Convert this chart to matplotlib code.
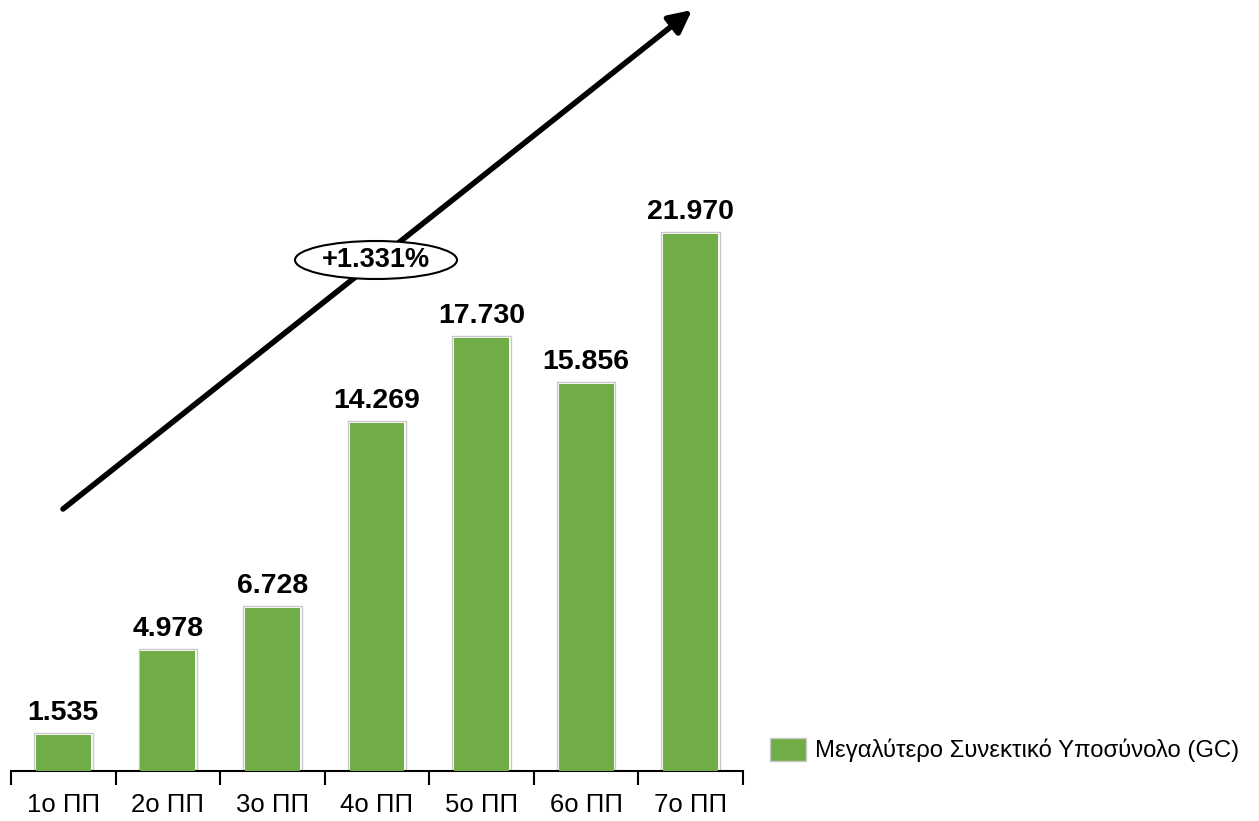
#!/usr/bin/env python3
import matplotlib
matplotlib.use("Agg")
import matplotlib.pyplot as plt
from matplotlib.patches import Ellipse

categories = ["1ο ΠΠ", "2ο ΠΠ", "3ο ΠΠ", "4ο ΠΠ", "5ο ΠΠ", "6ο ΠΠ", "7ο ΠΠ"]
values = [1535, 4978, 6728, 14269, 17730, 15856, 21970]
value_labels = ["1.535", "4.978", "6.728", "14.269", "17.730", "15.856", "21.970"]
series_name = "Μεγαλύτερο Συνεκτικό Υποσύνολο (GC)"
growth_label = "+1.331%"

plt.rcParams["font.family"] = ["Liberation Sans", "DejaVu Sans"]

W, H = 1259, 821
fig = plt.figure(figsize=(W / 100, H / 100), dpi=100)
ax = fig.add_axes([11 / W, 50 / H, (743 - 11) / W, (771 - 0) / H])

green = "#70ad47"
x = list(range(len(categories)))
width = 0.56
ax.bar(x, values, width=width, color="white", edgecolor="#c8c8c8", linewidth=1.0, zorder=2)
ax.bar(x, [v - 70 for v in values], width=width - 0.035, color=green, linewidth=0, zorder=3)

for xi, v, lab in zip(x, values, value_labels):
    ax.text(xi, v + 290, lab, ha="center", va="bottom", fontsize=20.5, fontweight="bold", zorder=4)

ax.set_xlim(-0.5, len(categories) - 0.5)
ax.set_ylim(0, 31430)

for s in ["left", "right", "top"]:
    ax.spines[s].set_visible(False)
ax.spines["bottom"].set_linewidth(1.5)
ax.set_yticks([])
ax.set_xticks([i - 0.5 for i in range(len(categories) + 1)])
ax.set_xticklabels([])
ax.tick_params(axis="x", which="major", length=10, width=1.5, direction="out")
ax.set_xticks(x, minor=True)
ax.set_xticklabels(categories, minor=True, fontsize=18.5)
ax.tick_params(axis="x", which="minor", length=0, pad=16)

# trend arrow
ax.annotate("", xy=(692 / W, 1 - 10 / H), xytext=(63 / W, 1 - 509 / H),
            xycoords="figure fraction", textcoords="figure fraction",
            arrowprops=dict(arrowstyle="-|>", lw=4, color="black",
                            mutation_scale=34, shrinkA=0, shrinkB=0),
            zorder=5)

ell = Ellipse((376 / W, 1 - 260 / H), 162 / W, 38 / H, transform=fig.transFigure,
              facecolor="white", edgecolor="black", linewidth=1.5, zorder=6)
fig.patches.append(ell)
fig.text(376 / W, 1 - 260 / H, growth_label, ha="center", va="center",
         fontsize=19.5, fontweight="bold", zorder=7)

leg = fig.legend([plt.Rectangle((0, 0), 1, 1, facecolor=green, edgecolor="#c8c8c8")],
                 [series_name], loc="center left",
                 bbox_to_anchor=(770 / W, 1 - 750 / H), frameon=False,
                 borderaxespad=0, borderpad=0,
                 fontsize=17.2, handlelength=1.5, handleheight=1.1, handletextpad=0.4)

fig.savefig("out.png", dpi=100)
